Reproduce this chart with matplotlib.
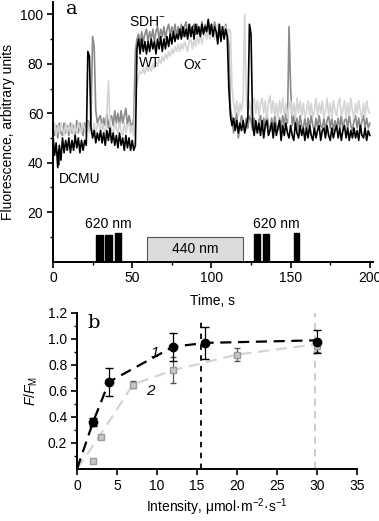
import numpy as np
import matplotlib
matplotlib.use('Agg')
import matplotlib.pyplot as plt
from matplotlib.patches import Rectangle

plt.rcParams['font.family'] = ['Liberation Sans', 'DejaVu Sans']
plt.rcParams['mathtext.fontset'] = 'custom'
plt.rcParams['mathtext.rm'] = 'Liberation Sans'
plt.rcParams['mathtext.it'] = 'Liberation Sans:italic'
plt.rcParams['font.size'] = 10

# ---- panel a: fluorescence traces, one value per second (0..200 s)
time_s = np.arange(0, 201)

wt = [51, 43, 48, 38, 47, 41, 50, 44, 49, 45,
      50, 44, 49, 45, 51, 46, 50, 44, 49, 45,
      49, 47, 85, 83, 54, 50, 53, 48, 52, 49,
      53, 48, 52, 47, 53, 49, 54, 48, 52, 47,
      51, 46, 52, 47, 50, 45, 51, 46, 50, 45,
      49, 45, 47, 86, 90, 84, 90, 85, 89, 84,
      89, 85, 90, 86, 89, 84, 90, 86, 91, 85,
      90, 86, 91, 87, 92, 88, 93, 89, 92, 90,
      94, 90, 95, 91, 94, 90, 96, 91, 95, 90,
      96, 92, 95, 91, 96, 92, 95, 93, 98, 92,
      96, 91, 95, 93, 88, 96, 89, 95, 90, 94,
      91, 70, 59, 55, 58, 53, 57, 52, 56, 53,
      57, 52, 55, 58, 96, 92, 56, 51, 57, 52,
      56, 51, 57, 50, 55, 57, 51, 53, 56, 50,
      56, 51, 54, 57, 49, 55, 51, 56, 52, 50,
      55, 51, 49, 56, 52, 50, 55, 51, 54, 49,
      54, 50, 55, 51, 49, 54, 50, 53, 55, 49,
      53, 54, 50, 55, 51, 49, 54, 50, 53, 55,
      50, 54, 49, 53, 55, 50, 54, 49, 53, 50,
      54, 50, 53, 49, 55, 51, 50, 54, 49, 53,
      51]

sdh = [56, 51, 55, 50, 56, 52, 51, 56, 52, 55,
       51, 56, 52, 55, 51, 57, 52, 56, 53, 51,
       56, 52, 57, 53, 59, 91, 87, 61, 56, 58,
       59, 54, 58, 55, 60, 54, 58, 59, 55, 61,
       56, 60, 55, 61, 56, 59, 62, 55, 59, 56,
       54, 58, 85, 90, 92, 88, 93, 89, 92, 94,
       89, 93, 90, 94, 89, 93, 95, 90, 94, 91,
       95, 90, 94, 96, 91, 95, 92, 96, 91, 95,
       92, 96, 91, 95, 97, 92, 96, 91, 95, 96,
       92, 96, 93, 91, 97, 92, 96, 93, 97, 92,
       96, 92, 97, 93, 91, 96, 92, 95, 91, 96,
       92, 88, 62, 58, 52, 57, 60, 50, 55, 59,
       57, 53, 58, 54, 59, 57, 53, 58, 54, 52,
       57, 59, 53, 58, 54, 60, 55, 53, 58, 54,
       59, 55, 53, 58, 54, 59, 55, 60, 56, 95,
       70, 55, 59, 54, 58, 53, 59, 55, 54, 58,
       53, 58, 54, 59, 55, 53, 58, 54, 59, 55,
       54, 58, 53, 57, 59, 54, 58, 53, 57, 54,
       58, 54, 59, 53, 57, 58, 54, 59, 55, 53,
       57, 59, 54, 58, 53, 57, 59, 54, 58, 54,
       56]

ox = [52, 56, 51, 55, 52, 56, 54, 51, 56, 52,
      55, 52, 56, 51, 55, 52, 56, 54, 52, 56,
      54, 51, 56, 52, 55, 51, 56, 52, 55, 56,
      52, 56, 54, 51, 60, 73, 56, 53, 52, 56,
      54, 52, 56, 53, 51, 56, 52, 55, 56, 52,
      55, 51, 66, 72, 75, 77, 76, 78, 76, 79,
      77, 79, 77, 80, 78, 81, 79, 82, 80, 83,
      81, 84, 82, 85, 83, 86, 84, 87, 85, 88,
      85, 88, 86, 89, 87, 85, 89, 90, 86, 90,
      87, 91, 88, 92, 88, 91, 93, 90, 94, 90,
      92, 95, 90, 94, 96, 91, 95, 93, 90, 95,
      91, 94, 93, 70, 64, 60, 65, 59, 64, 61,
      66, 100, 67, 60, 65, 59, 64, 66, 60, 65,
      59, 64, 66, 60, 65, 58, 64, 67, 60, 65,
      59, 64, 58, 65, 60, 66, 59, 64, 58, 63,
      65, 59, 64, 58, 66, 60, 65, 59, 64, 58,
      61, 65, 59, 64, 58, 61, 66, 59, 64, 60,
      65, 58, 61, 66, 59, 64, 58, 65, 61, 59,
      64, 66, 59, 61, 65, 58, 64, 59, 66, 61,
      58, 64, 60, 65, 61, 58, 64, 59, 65, 61,
      60]

# light pulses (start, end, height)
pulse_start = [27.2, 32.8, 39.1, 127.0, 132.3, 152.3]
pulse_end = [31.7, 37.0, 42.9, 130.6, 136.1, 155.4]
pulse_top = [10.7, 10.7, 11.5, 11.2, 11.2, 11.6]
blue_start, blue_end, blue_top = 59.1, 120.1, 9.8

# ---- panel b: light-intensity dependence
int1 = [2, 4, 12, 16, 30]
f1 = [0.36, 0.67, 0.94, 0.97, 0.98]
e1 = [0.03, 0.11, 0.11, 0.12, 0.09]
line1_x = [0, 2, 4, 12, 16, 30]
line1_y = [0.0, 0.36, 0.67, 0.94, 0.97, 0.99]

int2 = [2, 3, 7, 12, 20, 30]
f2 = [0.06, 0.25, 0.65, 0.76, 0.88, 0.95]
e2 = [0.01, 0.01, 0.03, 0.10, 0.05, 0.05]
line2_x = [0, 3, 7, 12, 20, 30]
line2_y = [0.0, 0.27, 0.65, 0.76, 0.88, 0.96]

fig = plt.figure(figsize=(3.79, 5.21), dpi=100)

ax1 = fig.add_axes([53 / 379, 1 - 261.5 / 521, 320 / 379, 259.5 / 521])
ax1.plot(time_s, sdh, color='#8a8a8a', lw=1.2)
ax1.plot(time_s, ox, color='#d4d4d4', lw=1.2)
ax1.plot(time_s, wt, color='black', lw=1.2)

for s, e, h in zip(pulse_start, pulse_end, pulse_top):
    ax1.add_patch(Rectangle((s, 0), e - s, h, facecolor='black', edgecolor='black'))
ax1.add_patch(Rectangle((blue_start, 0), blue_end - blue_start, blue_top,
                        facecolor='#dcdcdc', edgecolor='#555555', lw=0.8))
ax1.text((blue_start + blue_end) / 2, 5, '440 nm', ha='center', va='center', fontsize=10)
ax1.text(35, 15, '620 nm', ha='center', va='center', fontsize=10)
ax1.text(141, 15, '620 nm', ha='center', va='center', fontsize=10)

ax1.text(48, 97, 'SDH$^{-}$', ha='left', va='center', fontsize=10)
ax1.text(54.5, 80.5, 'WT', ha='left', va='center', fontsize=10)
ax1.text(82, 79.5, 'Ox$^{-}$', ha='left', va='center', fontsize=10)
ax1.text(3.5, 33.5, 'DCMU', ha='left', va='center', fontsize=10)
ax1.annotate('', xy=(3.8, 47), xytext=(3.8, 38),
             arrowprops=dict(arrowstyle='-|>', color='black', lw=1, mutation_scale=7))
ax1.text(12, 102, 'a', ha='center', va='center', fontsize=14, family='DejaVu Serif')

ax1.set_xlim(0, 202)
ax1.set_ylim(0, 105)
ax1.set_xticks([0, 50, 100, 150, 200])
ax1.set_xticks([25, 75, 125, 175], minor=True)
ax1.set_yticks([20, 40, 60, 80, 100])
ax1.set_yticks([10, 30, 50, 70, 90], minor=True)
ax1.set_xlabel('Time, s', labelpad=6)
ax1.set_ylabel('Fluorescence, arbitrary units', labelpad=4)

ax2 = fig.add_axes([77 / 379, 1 - 469 / 521, 280 / 379, 156 / 521])
ax2.plot(line2_x, line2_y, color='#d4d4d4', lw=1.6, dashes=(5, 3))
ax2.plot(line1_x, line1_y, color='black', lw=1.6, dashes=(5, 3))
ax2.plot([15.5, 15.5], [0, 1.15], color='black', lw=1.3, dashes=(3, 3))
ax2.plot([29.8, 29.8], [0, 1.2], color='#c8c8c8', lw=1.3, dashes=(4, 3))
ax2.errorbar(int2, f2, yerr=e2, fmt='s', color='#c8c8c8', ms=4, mec='#9a9a9a',
             ecolor='#555555', elinewidth=0.9, capsize=2.5)
ax2.errorbar(int1, f1, yerr=e1, fmt='o', color='black', ms=6,
             ecolor='black', elinewidth=0.9, capsize=3)
ax2.text(9.7, 0.89, '1', style='italic', ha='center', va='center', fontsize=11)
ax2.text(9.2, 0.6, '2', style='italic', ha='center', va='center', fontsize=11)
ax2.text(2.1, 1.12, 'b', ha='center', va='center', fontsize=14, family='DejaVu Serif')

ax2.set_xlim(0, 35)
ax2.set_ylim(0, 1.2)
ax2.set_xticks(np.arange(0, 36, 5))
ax2.set_yticks([0.2, 0.4, 0.6, 0.8, 1.0, 1.2])
ax2.set_yticks([0.1, 0.3, 0.5, 0.7, 0.9, 1.1], minor=True)
ax2.yaxis.set_major_formatter(matplotlib.ticker.FormatStrFormatter('%.1f'))
ax2.set_xlabel('Intensity, μmol·m$^{-2}$·s$^{-1}$', labelpad=3)
ax2.set_ylabel('$F/F_\\mathrm{M}$', labelpad=6)

for ax in (ax1, ax2):
    ax.spines['top'].set_visible(False)
    ax.spines['right'].set_visible(False)
    ax.spines['left'].set_linewidth(1.4)
    ax.spines['bottom'].set_linewidth(1.4)
    ax.tick_params(which='major', direction='out', length=4, width=1.2, pad=3)
    ax.tick_params(which='minor', direction='out', length=2.5, width=1.0)

fig.savefig('out.png', dpi=100)
